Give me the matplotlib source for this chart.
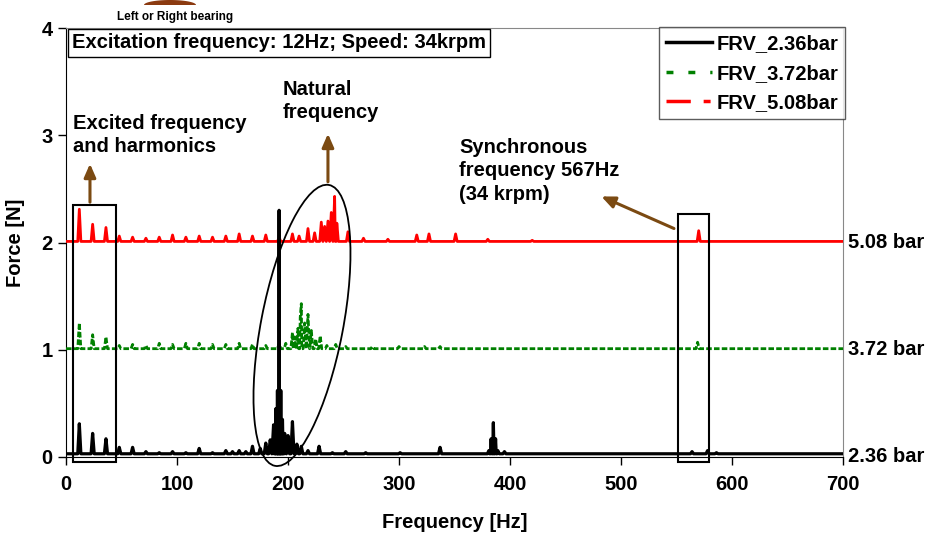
import numpy as np
import matplotlib
matplotlib.use("Agg")
import matplotlib.pyplot as plt
import matplotlib.transforms as mtransforms
from matplotlib.patches import Ellipse, Rectangle, Polygon
from matplotlib.lines import Line2D

plt.rcParams['font.family'] = ['Liberation Sans', 'DejaVu Sans']
plt.rcParams['font.weight'] = 'bold'

# spectrum peaks: frequency [Hz] and force [N] (offset curves)
black_base = 0.03
black_f = [12, 24, 36, 48, 60, 72, 84, 96, 108, 120, 132, 144, 150, 156, 162, 168, 175, 180, 184,
           187, 189, 190.5, 192, 193.5, 195, 197, 200, 204, 208, 212, 218, 228, 240, 252, 270, 290,
           301, 315, 337, 360, 381, 383, 385, 387, 389, 395, 420, 460, 484, 496, 564, 578, 586]
black_a = [0.31, 0.22, 0.17, 0.09, 0.09, 0.05, 0.04, 0.05, 0.04, 0.08, 0.04, 0.06, 0.05, 0.06, 0.05,
           0.10, 0.08, 0.13, 0.16, 0.30, 0.45, 0.62, 2.30, 0.62, 0.35, 0.22, 0.20, 0.33, 0.12, 0.10,
           0.06, 0.10, 0.04, 0.05, 0.04, 0.03, 0.04, 0.03, 0.09, 0.03, 0.06, 0.17, 0.32, 0.17, 0.06,
           0.05, 0.03, 0.03, 0.03, 0.03, 0.05, 0.06, 0.04]

green_base = 1.01
green_f = [12, 24, 36, 48, 60, 72, 84, 96, 108, 120, 132, 144, 156, 168, 180, 192, 198, 204, 206,
           209, 211, 212, 215, 218, 221, 225, 229, 235, 243, 252, 276, 300, 323, 337, 569]
green_a = [1.25, 1.14, 1.12, 1.04, 1.05, 1.04, 1.06, 1.05, 1.06, 1.06, 1.05, 1.05, 1.06, 1.05, 1.04,
           1.06, 1.06, 1.16, 1.12, 1.20, 1.30, 1.43, 1.25, 1.33, 1.18, 1.10, 1.13, 1.04, 1.05, 1.03,
           1.03, 1.03, 1.03, 1.03, 1.07]

red_base = 2.01
red_f = [12, 24, 36, 48, 60, 72, 84, 96, 108, 120, 132, 144, 156, 168, 180, 192, 204, 210, 218,
         224, 230, 233, 236, 239, 242, 244, 254, 268, 290, 316, 327, 351, 380, 420, 570]
red_a = [2.31, 2.17, 2.14, 2.06, 2.05, 2.04, 2.05, 2.07, 2.05, 2.06, 2.05, 2.06, 2.08, 2.06, 2.07,
         2.05, 2.08, 2.06, 2.13, 2.09, 2.19, 2.15, 2.20, 2.28, 2.43, 2.18, 2.10, 2.04, 2.03, 2.07,
         2.08, 2.08, 2.03, 2.02, 2.11]

labels = ['FRV_2.36bar', 'FRV_3.72bar', 'FRV_5.08bar']
side_labels = ['2.36 bar', '3.72 bar', '5.08 bar']
side_levels = [0, 1, 2]


def spectrum(base, pf, pa, half=1.4):
    pts = [(0, base), (700, base)]
    for f, a in zip(pf, pa):
        pts += [(f - half, base), (f, a), (f + half, base)]
    pts.sort(key=lambda p: p[0])
    return [p[0] for p in pts], [p[1] for p in pts]


W, H = 925, 536
fig = plt.figure(figsize=(W / 100, H / 100), dpi=100)
ax = fig.add_axes([66 / W, 1 - 457 / H, (843 - 66) / W, (457 - 28) / H])

fx, fy = spectrum(black_base, black_f, black_a)
ax.plot(fx, fy, color='black', lw=2.3, zorder=4)
fx, fy = spectrum(green_base, green_f, green_a)
ax.plot(fx, fy, color='#008000', lw=2.0, dashes=(2, 0.8), zorder=3)
fx, fy = spectrum(red_base, red_f, red_a)
ax.plot(fx, fy, color='red', lw=2.0, zorder=3)

ax.set_xlim(0, 700)
ax.set_ylim(0, 4)
ax.set_xticks(range(0, 701, 100))
ax.set_yticks(range(0, 5))
ax.tick_params(labelsize=14.5, length=6, width=1, direction='out')
ax.tick_params(axis='x', pad=7)
ax.set_xlabel('Frequency [Hz]', fontsize=14.5, fontweight='bold', labelpad=14)
ax.set_ylabel('Force [N]', fontsize=14.5, fontweight='bold', labelpad=12)
for s in ['top', 'right']:
    ax.spines[s].set_color('#888888')
for s in ['left', 'bottom']:
    ax.spines[s].set_color('black')

# right-hand pressure labels
tr = mtransforms.blended_transform_factory(ax.transAxes, ax.transData)
for lab, lev in zip(side_labels, side_levels):
    ax.text(1.007, lev, lab, transform=tr, fontsize=14.5, fontweight='bold',
            va='center', ha='left', clip_on=False)

# boxes around excited harmonics and synchronous frequency
ax.add_patch(Rectangle((6.6, -0.045), 38.2, 2.395, fill=False, ec='black', lw=1.5,
                       clip_on=False, zorder=5))
ax.add_patch(Rectangle((551, -0.045), 28, 2.31, fill=False, ec='black', lw=1.5,
                       clip_on=False, zorder=5))

# tilted ellipse around natural frequency
ell = Ellipse((0, 0), 2.86, 0.82, angle=79.1, fill=False, ec='black', lw=1.3, zorder=5,
              transform=fig.dpi_scale_trans + mtransforms.ScaledTranslation(212.6, 1.227, ax.transData),
              clip_on=False)
ax.add_patch(ell)

brown = '#7B4A12'
arw = dict(arrowstyle='-|>,head_width=0.35,head_length=0.8', color=brown, lw=2.2)
ax.annotate('', xy=(21.6, 2.76), xytext=(21.6, 2.35), arrowprops=arw)
ax.annotate('', xy=(236, 3.04), xytext=(236, 2.54), arrowprops=arw)
ax.annotate('', xy=(480, 2.44), xytext=(550, 2.12), arrowprops=arw)

ax.text(6.5, 3.0, 'Excited frequency\nand harmonics', fontsize=14.5, fontweight='bold',
        va='center', ha='left', linespacing=1.3)
ax.text(195, 3.32, 'Natural\nfrequency', fontsize=14.5, fontweight='bold',
        va='center', ha='left', linespacing=1.3)
ax.text(354, 2.67, 'Synchronous\nfrequency 567Hz\n(34 krpm)', fontsize=14.5, fontweight='bold',
        va='center', ha='left', linespacing=1.3)

fig.text(72 / W, 1 - 43 / H, 'Excitation frequency: 12Hz; Speed: 34krpm', fontsize=14.5,
         fontweight='bold', va='center', ha='left', zorder=6,
         bbox=dict(boxstyle='square,pad=0.22', fc='white', ec='black', lw=1))

# small header above the plot
fig.text(175 / W, 1 - 17 / H, 'Left or Right bearing', fontsize=8.5, fontweight='bold',
         ha='center', va='center')
t = np.linspace(0, np.pi, 40)
seg = [(170 + 26 * np.cos(a), 5 - 5 * np.sin(a)) for a in t]
fig.add_artist(Polygon([(x / W, 1 - y / H) for x, y in seg], closed=True,
                       transform=fig.transFigure, fc='#8B3A10', ec='none'))

handles = [Line2D([], [], color='black', lw=2.5),
           Line2D([], [], color='#008000', lw=2.5, dashes=(2, 4.3)),
           Line2D([], [], color='red', lw=2.5, dashes=(7, 3.7, 2, 10))]
leg = ax.legend(handles, labels, loc='upper right', bbox_to_anchor=(1.003, 1.002),
                borderaxespad=0, fontsize=14.5, frameon=True, fancybox=False,
                handlelength=2.3, handletextpad=0.2, labelspacing=0.52, borderpad=0.35)
leg.get_frame().set_edgecolor('#333333')
leg.get_frame().set_linewidth(1)
leg.set_zorder(7)

fig.savefig('out.png', dpi=100)
